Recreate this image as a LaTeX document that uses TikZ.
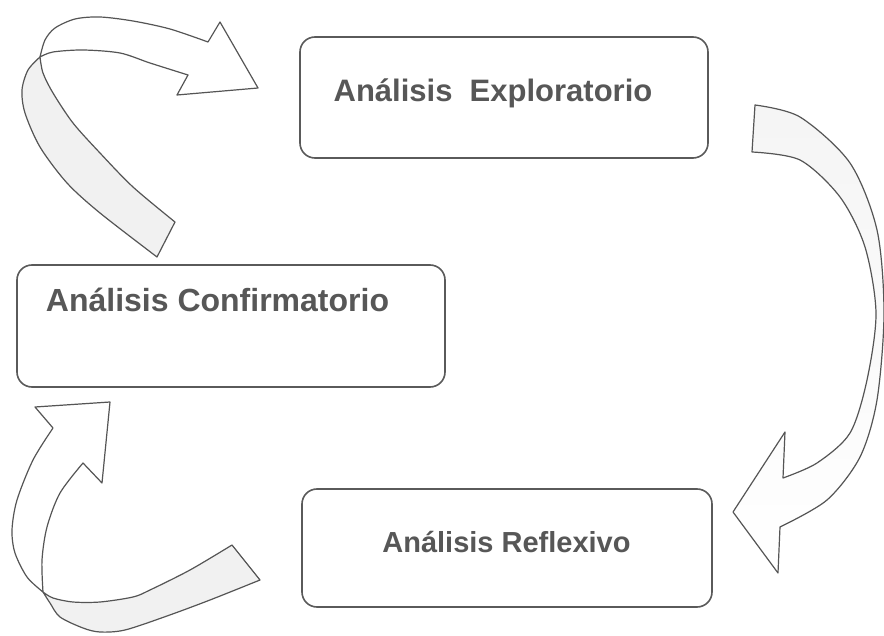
\documentclass[tikz,border=0pt]{standalone}
\usepackage{fontspec}
\setmainfont{Liberation Sans}
\definecolor{linegray}{HTML}{555555}
\definecolor{boxgray}{HTML}{5A5A5A}
\definecolor{textgray}{HTML}{575757}
\definecolor{bandgray}{HTML}{F1F1F1}
\begin{document}
\begin{tikzpicture}[x=1pt,y=-1pt,
  box/.style={draw=boxgray, line width=1.6pt, rounded corners=15pt, fill=white, inner sep=0pt},
  lab/.style={text=textgray, anchor=base, inner sep=0pt},
  ribbon/.style={draw=linegray, line width=1.2pt, line join=round},
  ]
\useasboundingbox (0,0) rectangle (884,636);
\fill[white] (0,0) rectangle (884,636);

% the three stages
\node[box, minimum width=408pt, minimum height=121pt] (expl) at (504,97.5) {};
\node[lab, font=\bfseries\fontsize{31}{36}\selectfont] (expltext) at (493,102) {Análisis\ \ Exploratorio};

\node[box, minimum width=428pt, minimum height=122pt] (conf) at (231,326) {};
\node[lab, font=\bfseries\fontsize{32}{36}\selectfont] (conftext) at (217.5,312) {Análisis Confirmatorio};

\node[box, minimum width=410pt, minimum height=118pt] (refl) at (507,548) {};
\node[lab, font=\bfseries\fontsize{29}{34}\selectfont] (refltext) at (506.5,552) {Análisis Reflexivo};

% ribbon arrow, top left: twisted band (back side shaded)
\path[ribbon, fill=bandgray]
  plot[smooth] coordinates {(157,257) (100,213) (67,183) (40,147) (25,113) (22,90) (28,70) (40,57)}
  -- plot[smooth] coordinates {(40,57) (43,73) (53,93) (73,123) (100,153) (133,187) (175,222)}
  -- cycle;
\path[ribbon, fill=white]
  plot[smooth] coordinates {(40,57) (53,52) (83,50) (120,53) (150,63) (188,75)}
  -- (177,95) -- (258,88) -- (220,22)
  -- plot[smooth] coordinates {(208,42) (170,29) (133,21) (100,17) (75,19) (55,28) (45,40) (40,57)}
  -- cycle;

% ribbon arrow, right side
\path[ribbon, top color=gray!8, bottom color=white]
  plot[smooth] coordinates {(755,105) (800,117) (850,163) (877,230) (884,313) (877,400) (860,457) (827,500) (780,527)}
  -- (778,573) -- (733,512) -- (785,432)
  -- plot[smooth] coordinates {(783,478) (817,463) (850,433) (867,380) (876,313) (865,247) (840,197) (800,160) (752,152)}
  -- cycle;

% ribbon arrow, bottom left: twisted band (back side shaded)
\path[ribbon, fill=white]
  plot[smooth] coordinates {(43,592) (27,577) (15,553) (12,530) (17,500) (33,460) (53,428)}
  -- (35,407) -- (110,402) -- (102,483)
  -- plot[smooth] coordinates {(83,463) (60,493) (47,527) (42,560) (43,592)}
  -- cycle;
\path[ribbon, fill=bandgray]
  plot[smooth] coordinates {(43,592) (53,598) (73,602) (100,602) (133,597) (150,590) (190,570) (232,545)}
  -- plot[smooth] coordinates {(260,580) (210,600) (167,616) (125,630) (100,632) (83,628) (60,617) (50,603) (43,592)}
  -- cycle;
\end{tikzpicture}
\end{document}
